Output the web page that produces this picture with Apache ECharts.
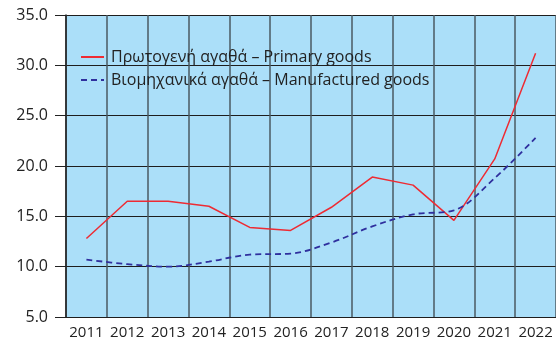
<!DOCTYPE html>
<html>
<head>
<meta charset="utf-8">
<script src="https://cdn.jsdelivr.net/npm/echarts@6/dist/echarts.min.js"></script>
<style>
  html, body { margin: 0; padding: 0; background: #ffffff; }
  #chart { width: 556px; height: 345px; }
</style>
</head>
<body>
<div id="chart"></div>
<script>
// Years on the category axis
const years = ['2011', '2012', '2013', '2014', '2015', '2016', '2017', '2018', '2019', '2020', '2021', '2022'];

// Primary goods
const primaryGoods = [12.8, 16.5, 16.5, 16.0, 13.9, 13.6, 15.9, 18.9, 18.1, 14.6, 20.7, 31.2];

// Manufactured goods
const manufacturedGoods = [10.7, 10.25, 10.0, 10.5, 11.2, 11.3, 12.4, 14.0, 15.2, 15.6, 18.8, 22.8];

const primaryName = 'Πρωτογενή αγαθά – Primary goods';
const manufacturedName = 'Βιομηχανικά αγαθά – Manufactured goods';

const FONT = '"Open Sans", "Noto Sans", sans-serif';

const chart = echarts.init(document.getElementById('chart'), null, { renderer: 'canvas' });

chart.setOption({
  animation: false,
  backgroundColor: '#ffffff',
  textStyle: { fontFamily: FONT },
  grid: {
    left: 66,
    top: 15,
    width: 492,
    bottom: 28,
    show: true,
    backgroundColor: '#abdff9',
    borderWidth: 0
  },
  legend: {
    left: 80,
    top: 49,
    padding: 0,
    orient: 'vertical',
    itemWidth: 23,
    itemHeight: 14,
    itemGap: 7,
    itemStyle: { opacity: 0 },
    textStyle: { fontFamily: FONT, fontSize: 16, color: '#222222', padding: [0, 0, 0, 2] },
    data: [primaryName, manufacturedName]
  },
  xAxis: {
    type: 'category',
    data: years,
    boundaryGap: true,
    axisLine: { show: false },
    axisTick: { show: false },
    axisLabel: { color: '#222222', fontSize: 15, fontFamily: FONT, margin: 8, interval: 0 },
    splitLine: { show: true, interval: 0, lineStyle: { color: '#4a5a62', width: 1.5 } }
  },
  yAxis: {
    type: 'value',
    min: 5,
    max: 35,
    interval: 5,
    axisLine: { show: true, lineStyle: { color: '#222222', width: 1.5 } },
    axisTick: { show: true, length: 11, lineStyle: { color: '#222222', width: 1 } },
    axisLabel: {
      color: '#222222',
      fontSize: 16,
      fontFamily: FONT,
      margin: 18,
      formatter: v => v.toFixed(1)
    },
    splitLine: { show: true, lineStyle: { color: '#1e1e1e', width: 1 } }
  },
  series: [
    {
      name: primaryName,
      type: 'line',
      data: primaryGoods,
      symbol: 'none',
      lineStyle: { color: '#ee2b33', width: 1.5 },
      itemStyle: { color: '#ee2b33' }
    },
    {
      name: manufacturedName,
      type: 'line',
      data: manufacturedGoods,
      symbol: 'none',
      smooth: 0.35,
      lineStyle: { color: '#2f2f9e', width: 1.8, type: [6, 4] },
      itemStyle: { color: '#2f2f9e' }
    }
  ]
});
</script>
</body>
</html>
